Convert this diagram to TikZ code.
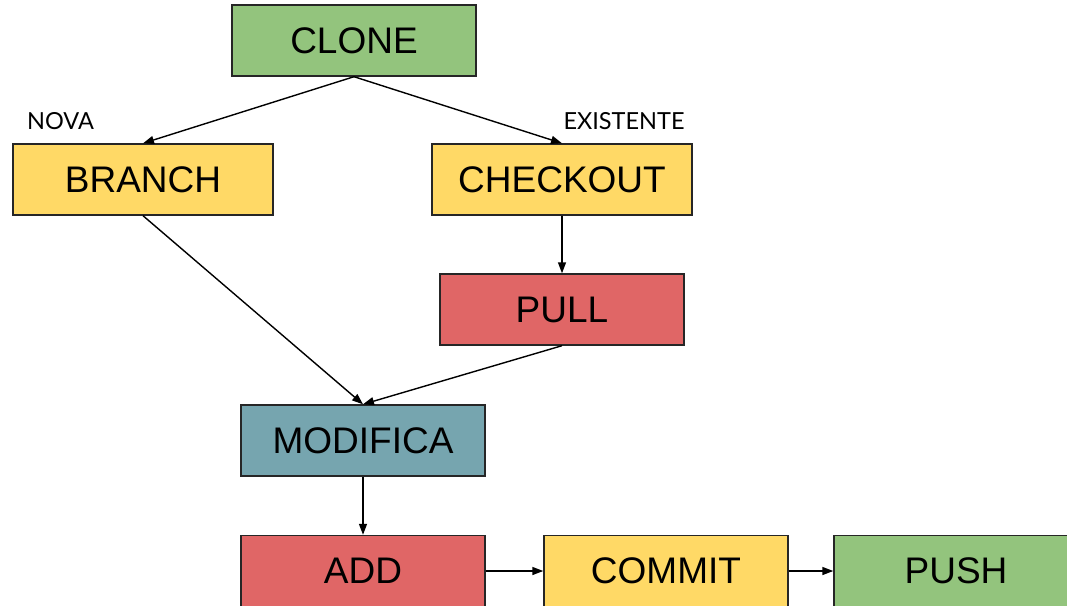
\documentclass[tikz,border=0pt]{standalone}
\usepackage{fontspec}
\setmainfont{Liberation Sans}
\newfontfamily\latofont{Lato}
\usetikzlibrary{arrows.meta,positioning}
\definecolor{gitgreen}{HTML}{93C47D}
\definecolor{gityellow}{HTML}{FFD966}
\definecolor{gitred}{HTML}{E06666}
\definecolor{gitteal}{HTML}{76A5AF}

\begin{document}
\begin{tikzpicture}[x=1pt, y=-1pt,
  box/.style={draw=black!85, line width=1.4pt, minimum width=244pt, minimum height=71pt,
              inner sep=0pt, font=\fontsize{37}{40}\selectfont},
  wide/.style={minimum width=260pt},
  tag/.style={font=\latofont\fontsize{23.5}{26}\selectfont, inner sep=0pt},
  arr/.style={-{Triangle[length=11pt,width=8pt]}, line width=1.4pt}]
  \clip (0,0) rectangle (1067,605);
  % top of the flow
  \node[box, fill=gitgreen] (clone) at (354,40.5) {CLONE};
  \node[box, wide, fill=gityellow] (branch) at (143,179.5) {BRANCH};
  \node[box, wide, fill=gityellow] (checkout) at (562,179.5) {CHECKOUT};
  \node[box, fill=gitred] (pull) at (562,309.5) {PULL};
  \node[box, fill=gitteal] (modifica) at (363,440.5) {MODIFICA};
  % bottom row
  \node[box, fill=gitred] (add) at (363,571) {ADD};
  \node[box, fill=gityellow] (commit) at (666,571) {COMMIT};
  \node[box, fill=gitgreen] (push) at (956,571) {PUSH};
  % labels
  \node[tag] (nova) at (60.5,121) {NOVA};
  \node[tag] (existente) at (624,121) {EXISTENTE};
  % connectors
  \draw[arr] (clone.south) -- (branch.north);
  \draw[arr] (clone.south) -- (checkout.north);
  \draw[arr] (checkout.south) -- (pull.north);
  \draw[arr] (branch.south) -- (modifica.north);
  \draw[arr] (pull.south) -- (modifica.north);
  \draw[arr] (modifica.south) -- (add.north);
  \draw[arr] (add.east) -- (commit.west);
  \draw[arr] (commit.east) -- (push.west);
\end{tikzpicture}
\end{document}
